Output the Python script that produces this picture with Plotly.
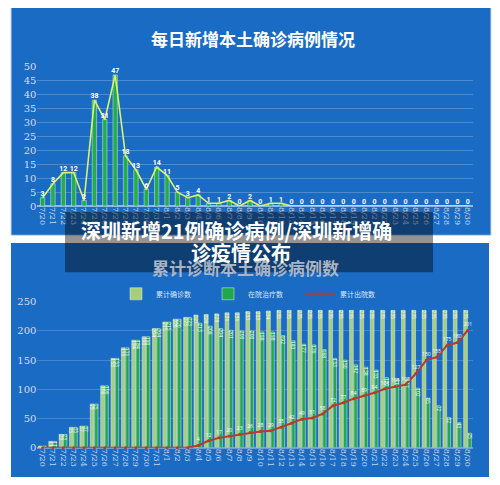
import plotly.graph_objects as go

dates = ["7/20", "7/21", "7/22", "7/23", "7/24", "7/25", "7/26", "7/27", "7/28", "7/29",
         "7/30", "7/31", "8/1", "8/2", "8/3", "8/4", "8/5", "8/6", "8/7", "8/8",
         "8/9", "8/10", "8/11", "8/12", "8/13", "8/14", "8/15", "8/16", "8/17", "8/18",
         "8/19", "8/20", "8/21", "8/22", "8/23", "8/24", "8/25", "8/26", "8/27", "8/28",
         "8/29", "8/30"]

daily_new = [3, 8, 12, 12, 2, 38, 31, 47, 18, 13, 6, 14, 11, 5, 3, 4, 1, 1, 2, 0,
             2, 0, 1, 1, 0, 0, 0, 0, 0, 0, 0, 0, 0, 0, 0, 0, 0, 0, 0, 0, 0, 0]

cumulative = [3, 11, 23, 35, 37, 75, 106, 153, 171, 184, 190, 204, 215, 220, 223, 227,
              228, 229, 231, 231, 233, 233, 234, 235, 235, 235, 235, 235, 235, 235,
              235, 235, 235, 235, 235, 235, 235, 235, 235, 235, 235, 235]

in_hospital = [3, 11, 23, 35, 37, 75, 106, 153, 171, 184, 190, 204, 215, 220, 223,
               213, 208, 204, 201, 200, 200, 198, 198, 192, 183, 177, 176, 168, 153,
               150, 142, 138, 133, 120, 118, 117, 102, 85, 72, 52, 43, 25]

discharged = [0, 0, 0, 0, 0, 0, 0, 0, 0, 0, 0, 0, 0, 0, 0,
              4, 12, 17, 20, 23, 26, 28, 29, 35, 42, 49, 51, 58, 72, 77, 84, 89, 94,
              101, 105, 108, 127, 150, 155, 175, 180, 201]

title_top = "每日新增本土确诊病例情况"
title_bottom = "累计诊断本土确诊病例数"
banner_line1 = "深圳新增21例确诊病例/深圳新增确"
banner_line2 = "诊疫情公布"
legend_names = ["累计确诊数", "在院治疗数", "累计出院数"]

PANEL = "#1a6bc4"
CJK = "Noto Sans CJK SC"
OFF = 8  # page body margin
W, H = 500 - OFF, 485 - OFF


def px(pix):
    return (pix - OFF) / W


def py(pix):
    return 1 - (pix - OFF) / H


fig = go.Figure()

# top chart
fig.add_trace(go.Bar(x=dates, y=daily_new, marker_color="#22ad4b", width=0.42, offset=-0.21,
                     showlegend=False, xaxis="x", yaxis="y"))
fig.add_trace(go.Scatter(x=dates, y=daily_new, mode="lines+text", text=[str(v) for v in daily_new],
                         textposition="top center",
                         textfont=dict(color="white", size=7, family="Roboto", weight="bold"),
                         line=dict(color="#d9f36b", width=1.6), showlegend=False,
                         cliponaxis=False, xaxis="x", yaxis="y"))

# bottom chart
fig.add_trace(go.Bar(x=dates, y=cumulative, name=legend_names[0], marker_color="#a6cf7c",
                     width=0.36, offset=-0.4, text=[str(v) for v in cumulative],
                     textposition="inside", insidetextanchor="end", textangle=90,
                     constraintext="none", textfont=dict(color="white", size=5),
                     xaxis="x2", yaxis="y2"))
fig.add_trace(go.Bar(x=dates, y=in_hospital, name=legend_names[1], marker_color="#1fa94c",
                     width=0.32, offset=0.02, text=[str(v) for v in in_hospital],
                     textposition="inside", insidetextanchor="end", textangle=90,
                     constraintext="none", textfont=dict(color="white", size=5),
                     xaxis="x2", yaxis="y2"))
fig.add_trace(go.Scatter(x=dates, y=discharged, name=legend_names[2], mode="lines+markers+text",
                         text=[str(v) if v > 0 else "" for v in discharged],
                         textposition="top center", textfont=dict(color="white", size=5),
                         line=dict(color="#b83a2c", width=2), marker=dict(size=3, color="#b83a2c"),
                         cliponaxis=False, xaxis="x2", yaxis="y2"))

xdom = [px(37.4), px(473)]
tickfont_x = dict(color="#c9d6ea", size=8, family="DejaVu Serif")
tickfont_y = dict(color="#d4def0", size=10, family="DejaVu Serif")

fig.update_layout(
    width=W, height=H,
    margin=dict(l=0, r=0, t=0, b=0),
    paper_bgcolor="white", plot_bgcolor="rgba(0,0,0,0)",
    barmode="overlay",
    showlegend=True,
    legend=dict(orientation="h", x=px(116), y=py(295), yanchor="middle", xanchor="left",
                font=dict(color="#dde6f5", size=7, family=CJK), bgcolor="rgba(0,0,0,0)",
                entrywidth=47, itemwidth=30, traceorder="normal"),
    xaxis=dict(domain=xdom, anchor="y", type="category", tickangle=90, tickfont=tickfont_x,
               showgrid=False, showline=False, ticks="", range=[-0.5, 41.5]),
    yaxis=dict(domain=[py(205), py(62)], anchor="x", range=[0, 50], dtick=5,
               tickfont=tickfont_y, gridcolor="rgba(255,255,255,0.22)", gridwidth=1,
               zeroline=True, zerolinecolor="rgba(220,235,255,0.6)", zerolinewidth=1.5,
               showline=False, ticks=""),
    xaxis2=dict(domain=xdom, anchor="y2", type="category", tickangle=90, tickfont=tickfont_x,
                showgrid=False, showline=False, ticks="", range=[-0.5, 41.5]),
    yaxis2=dict(domain=[py(453), py(303)], anchor="x2", range=[0, 250], dtick=50,
                tickfont=tickfont_y, gridcolor="rgba(255,255,255,0.18)", gridwidth=1,
                zeroline=True, zerolinecolor="rgba(220,235,255,0.4)", showline=False, ticks=""),
    shapes=[
        dict(type="rect", xref="paper", yref="paper", x0=px(11), x1=px(491), y0=py(235), y1=1.02,
             fillcolor=PANEL, line=dict(color="#c9d9ee", width=1), layer="below"),
        dict(type="rect", xref="paper", yref="paper", x0=px(11), x1=px(489), y0=py(483), y1=py(243),
             fillcolor=PANEL, line=dict(width=0), layer="below"),
        dict(type="rect", xref="paper", yref="paper", x0=px(65), x1=px(433), y0=py(273), y1=py(211),
             fillcolor="rgba(0,0,0,0.42)", line=dict(width=0), layer="above"),
    ],
    annotations=[
        dict(text="<b>" + title_top + "</b>", xref="paper", yref="paper", x=px(253), y=py(33),
             xanchor="center", yanchor="middle",
             showarrow=False, font=dict(color="white", size=17, family=CJK)),
        dict(text="<b>" + title_bottom + "</b>", xref="paper", yref="paper", x=px(245), y=py(268),
             xanchor="center", yanchor="middle",
             showarrow=False, font=dict(color="#a9b4c4", size=17, family=CJK)),
        dict(text="<b>" + banner_line1 + "</b>", xref="paper", yref="paper", x=px(236), y=py(230),
             xanchor="center", yanchor="middle",
             showarrow=False, font=dict(color="white", size=20, family=CJK)),
        dict(text="<b>" + banner_line2 + "</b>", xref="paper", yref="paper", x=px(241), y=py(253),
             xanchor="center", yanchor="middle",
             showarrow=False, font=dict(color="white", size=20, family=CJK)),
    ],
)

fig.write_html("out.html")
